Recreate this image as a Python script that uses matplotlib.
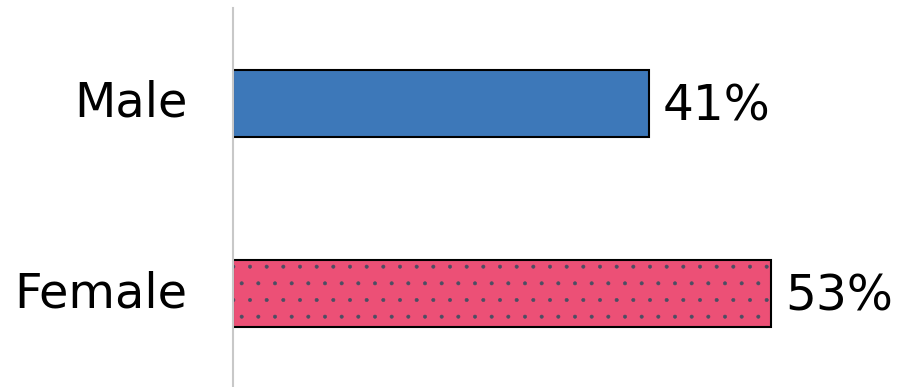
import matplotlib
matplotlib.use("Agg")
import matplotlib.pyplot as plt

# Data
categories = ["Female", "Male"]
values = [53, 41]
colors = ["#EC5076", "#3D78B9"]
hatches = [".", ""]

plt.rcParams['font.family'] = ['DejaVu Sans']
plt.rcParams['hatch.linewidth'] = 0.4

fig = plt.figure(figsize=(9.03, 3.87), dpi=100)
ax = fig.add_axes([233 / 903, 0, 1 - 233 / 903, 379 / 387])

pos = list(range(len(categories)))
bar_h = 0.35

# fill (with dot hatch in a gray colour)
ax.barh(pos, values, height=bar_h, color=colors, edgecolor="#4B4E63",
        linewidth=0, hatch=hatches)
# black outline on top
ax.barh(pos, values, height=bar_h, color="none", edgecolor="black",
        linewidth=1.5)

for y, v in zip(pos, values):
    ax.annotate(f"{v}%", (v, y), xytext=(10, -2), textcoords="offset points",
                va="center", ha="left", fontsize=35)

ax.set_xlim(0, 66)
ax.set_ylim(-0.49, 1.5)
ax.set_yticks(pos)
ax.set_yticklabels(categories, fontsize=34.5)
for lab in ax.get_yticklabels():
    lab.set_va("center")
ax.tick_params(axis="y", length=0, pad=33)
ax.set_xticks([])

for s in ["top", "right", "bottom"]:
    ax.spines[s].set_visible(False)
ax.spines["left"].set_color("#C8C8C8")
ax.spines["left"].set_linewidth(1.5)

fig.savefig("out.png", dpi=100)
